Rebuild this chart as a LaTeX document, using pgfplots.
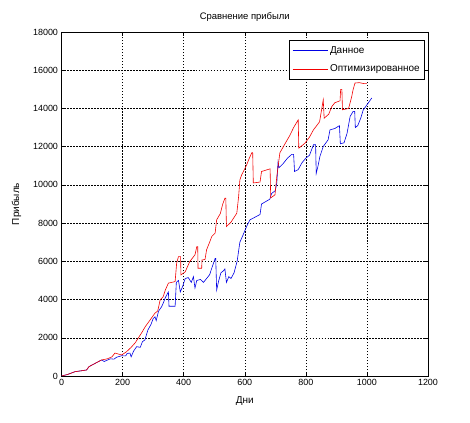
\documentclass[border=0pt]{standalone}
\usepackage{pgfplots}
\pgfplotsset{compat=1.18}
\usepackage{fontspec}
\setmainfont{Liberation Sans}
\begin{document}
\begin{tikzpicture}
\begin{axis}[
  at={(0,0)}, anchor=south west,
  scale only axis,
  width=366.5bp, height=344bp,
  xmin=0, xmax=1200, ymin=0, ymax=18000,
  xtick={0,200,...,1200}, ytick={0,2000,...,18000},
  scaled ticks=false,
  /pgf/number format/assume math mode=true,
  xticklabel style={/pgf/number format/1000 sep={}},
  yticklabel style={/pgf/number format/1000 sep={}},
  tick label style={font=\fontsize{9}{10}\selectfont},
  label style={font=\fontsize{10}{11}\selectfont},
  title style={font=\fontsize{9.5}{11}\selectfont, yshift=1bp},
  title={Сравнение прибыли},
  xlabel={Дни}, ylabel={Прибыль},
  xlabel style={yshift=-4bp},
  ylabel style={yshift=5bp},
  grid=major,
  major grid style={black, line width=0.4pt, dash pattern=on 1.5pt off 1.5pt},
  axis line style={black, line width=0.6pt},
  tick align=inside, major tick length=4bp,
  tick style={black, line width=0.5pt},
  legend style={at={(1,1)}, anchor=north east, xshift=-3bp, yshift=-8bp,
    draw=black, fill=white, line width=0.6pt, font=\fontsize{10}{11}\selectfont,
    inner xsep=3bp, inner ysep=4bp, row sep=6bp},
  legend cell align=left,
  legend image code/.code={\draw[#1] (0bp,0bp) -- (35bp,0bp);},
]
\addplot[blue!90!black, line width=0.6pt] coordinates {
(0,0) (20,80) (44,225) (82,314) (90,490) (131,838) (140,760) (150,830) (160,900)
(172,880) (180,980) (197,1060) (210,1050) (215,1180) (224,1200) (228,1000) (236,1300)
(246,1535) (258,1500) (265,1800) (273,1885) (283,2410) (293,2700) (300,3000) (306,3100)
(310,2900) (318,3400) (328,3630) (333,3810) (340,4100) (350,4400) (352,3650) (372,3650)
(376,4900) (383,5000) (389,4400) (397,4700) (405,5100) (415,5150) (425,4900) (432,5200)
(437,4600) (443,5000) (455,5050) (465,4900) (475,5100) (485,5300) (492,5640) (503,6150)
(505,6150) (508,4500) (515,5000) (522,5400) (530,5500) (535,5600) (540,4900) (548,5200)
(555,5100) (565,5400) (575,6000) (584,7000) (595,7400) (606,7820) (617,8170) (650,8450)
(655,9000) (682,9250) (688,9550) (700,9700) (705,10100) (709,11200) (712,10900) (725,11100)
(740,11400) (754,11600) (760,11600) (763,10700) (775,10800) (787,11150) (800,11400)
(812,11550) (825,12100) (832,12100) (834,10600) (840,11000) (846,11480) (857,12010)
(873,12360) (879,12880) (895,12950) (910,13100) (913,12150) (925,12200) (935,12700)
(945,13580) (955,13850) (960,13850) (962,13000) (970,13100) (980,13500) (988,13930)
(994,14050) (1005,14300) (1016,14550)
};
\addlegendentry{Данное}
\addplot[red!95!black, line width=0.6pt] coordinates {
(0,0) (20,80) (44,225) (82,314) (90,490) (131,838) (150,900) (165,1000) (175,1200)
(197,1100) (213,1270) (228,1500) (241,1730) (252,2000) (262,2250) (275,2600) (290,2930)
(306,3290) (315,3400) (323,3980) (333,4150) (340,4500) (350,4860) (372,4940) (377,5900)
(383,6250) (390,6250) (391,5290) (405,5450) (420,5990) (437,6340) (443,6770) (446,6770)
(447,5640) (459,5640) (460,6070) (470,6100) (475,6600) (485,7000) (492,7300) (503,7480)
(508,8170) (520,8500) (528,9000) (535,9300) (538,9300) (540,7820) (555,8050) (565,8300)
(574,8520) (580,9400) (584,10260) (590,10530) (605,11000) (615,11400) (623,11680)
(626,11680) (628,10100) (650,10150) (655,10700) (683,10840) (685,9320) (699,9480)
(705,10440) (715,11680) (730,12100) (748,12600) (760,13000) (775,13400) (777,11920)
(797,12180) (812,12500) (825,12880) (845,13300) (857,14450) (860,13490) (875,13700)
(885,14100) (895,14300) (912,14400) (914,15000) (918,15000) (920,13930) (940,14000)
(950,14600) (955,15000) (961,15330) (975,15350) (990,15300) (1000,15300)
};
\addlegendentry{Оптимизированное}
\end{axis}
\pgfresetboundingbox
\path (-61.5bp,-47bp) rectangle (408.5bp,376bp);
\end{tikzpicture}
\end{document}
